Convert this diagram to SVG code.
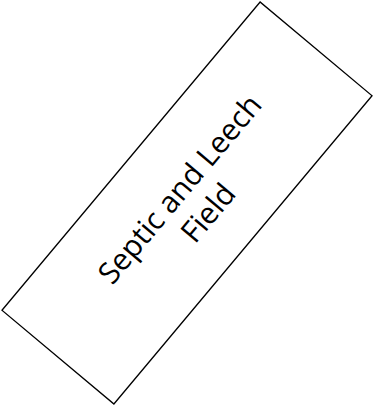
<svg xmlns="http://www.w3.org/2000/svg" width="373" height="409" viewBox="0 0 373 409">
<style>
.box{fill:#fff;stroke:#000;stroke-width:1.3}
.lbl{font-family:"Open Sans","Liberation Sans",sans-serif;font-size:30px;fill:#000;text-anchor:middle}
</style>
<rect width="373" height="409" fill="#fff"/>
<g id="septic" transform="translate(187,203) rotate(-50.05)">
<rect class="box" x="-201" y="-73" width="402" height="146"/>
<text class="lbl" x="6" y="-4">Septic and Leech</text>
<text class="lbl" x="6" y="33">Field</text>
</g>
<g id="connectors"/>
</svg>
